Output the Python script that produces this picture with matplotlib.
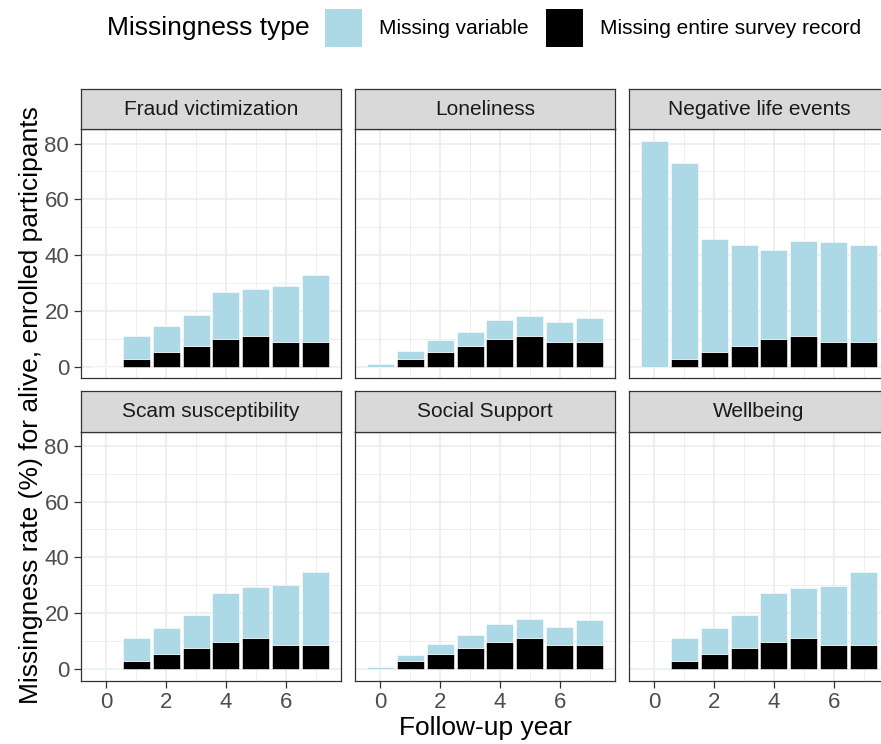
import matplotlib.pyplot as plt
import numpy as np
from matplotlib.patches import Rectangle

plt.rcParams["font.family"] = ["Liberation Sans", "DejaVu Sans"]

years = np.arange(8)
outcomes = [
    "Fraud victimization",
    "Loneliness",
    "Negative life events",
    "Scam susceptibility",
    "Social Support",
    "Wellbeing",
]

# whole survey record missing (same follow-up waves for every outcome)
record_missing = [0.0, 2.9, 5.4, 7.7, 9.9, 11.1, 8.8, 8.8]

# item-level missingness on top of the missing records
fraud_var = [0.0, 8.3, 9.2, 10.8, 16.9, 16.9, 20.2, 24.2]
lonely_var = [1.1, 2.8, 4.2, 5.0, 6.9, 7.1, 7.2, 8.9]
negative_var = [81.0, 70.0, 40.6, 35.9, 31.9, 33.9, 35.9, 34.8]
scam_var = [0.5, 8.4, 9.5, 11.6, 17.4, 18.3, 21.4, 26.0]
support_var = [0.9, 2.3, 3.5, 4.4, 6.2, 6.8, 6.3, 8.7]
wellbeing_var = [0.3, 8.4, 9.5, 11.6, 17.5, 18.1, 21.0, 26.0]

variable_missing = [fraud_var, lonely_var, negative_var, scam_var, support_var, wellbeing_var]

LIGHTBLUE = "#ADD8E6"
GRID = "#EBEBEB"
BORDER = "#333333"
TICK_TEXT = "#4D4D4D"

W, H = 881, 744
fig = plt.figure(figsize=(W / 100, H / 100), dpi=100)


def px_box(left, top, width, height):
    return [left / W, (H - top - height) / H, width / W, height / H]


col_left = [81, 355, 629]
panel_w = 260
panel_top = [129.4, 431.5]
panel_h = 249
strip_h = 40.5

for i, name in enumerate(outcomes):
    row, col = divmod(i, 3)
    ax = fig.add_axes(px_box(col_left[col], panel_top[row], panel_w, panel_h))

    ax.bar(years, record_missing, width=0.9, color="black",
           edgecolor="white", linewidth=0.4, zorder=2)
    ax.bar(years, variable_missing[i], bottom=record_missing, width=0.9,
           color=LIGHTBLUE, edgecolor="white", linewidth=0.4, zorder=2)

    ax.set_xlim(-0.845, 7.845)
    ax.set_ylim(-4.05, 85.05)
    ax.set_xticks([0, 2, 4, 6])
    ax.set_xticks([1, 3, 5, 7], minor=True)
    ax.set_yticks([0, 20, 40, 60, 80])
    ax.set_yticks([10, 30, 50, 70], minor=True)
    ax.grid(which="major", color=GRID, linewidth=1.1, zorder=0)
    ax.grid(which="minor", color=GRID, linewidth=0.55, zorder=0)
    ax.set_axisbelow(True)
    for s in ax.spines.values():
        s.set_color(BORDER)
        s.set_linewidth(0.9)

    ax.tick_params(which="minor", length=0)
    ax.tick_params(which="major", length=5, width=0.9, color=BORDER,
                   labelsize=16, labelcolor=TICK_TEXT, pad=3.5)
    if col != 0:
        ax.tick_params(axis="y", which="major", length=0, labelleft=False)
    if row != 1:
        ax.tick_params(axis="x", which="major", length=0, labelbottom=False)

    # facet strip
    sax = fig.add_axes(px_box(col_left[col], panel_top[row] - strip_h, panel_w, strip_h))
    sax.set_facecolor("#D9D9D9")
    sax.set_xticks([])
    sax.set_yticks([])
    for s in sax.spines.values():
        s.set_color(BORDER)
        s.set_linewidth(0.9)
    sax.text(0.5, 0.5, name, transform=sax.transAxes, ha="center", va="center",
             fontsize=15, color="#1A1A1A")

fig.text(485 / W, 1 - 728 / H, "Follow-up year", ha="center", va="center", fontsize=19)
fig.text(31 / W, 1 - 405 / H, "Missingness rate (%) for alive, enrolled participants",
         ha="center", va="center", rotation=90, fontsize=19)

# legend along the top
leg_y = 1 - 28 / H
fig.text(107 / W, leg_y, "Missingness type", ha="left", va="center", fontsize=19)
fig.patches.append(Rectangle((325 / W, 1 - 47 / H), 37 / W, 38 / H,
                             transform=fig.transFigure, facecolor=LIGHTBLUE, edgecolor="none"))
fig.text(379 / W, leg_y, "Missing variable", ha="left", va="center", fontsize=15)
fig.patches.append(Rectangle((546 / W, 1 - 47 / H), 37 / W, 38 / H,
                             transform=fig.transFigure, facecolor="black", edgecolor="none"))
fig.text(600 / W, leg_y, "Missing entire survey record", ha="left", va="center", fontsize=15)

fig.savefig("out.png", dpi=100, facecolor="white")
